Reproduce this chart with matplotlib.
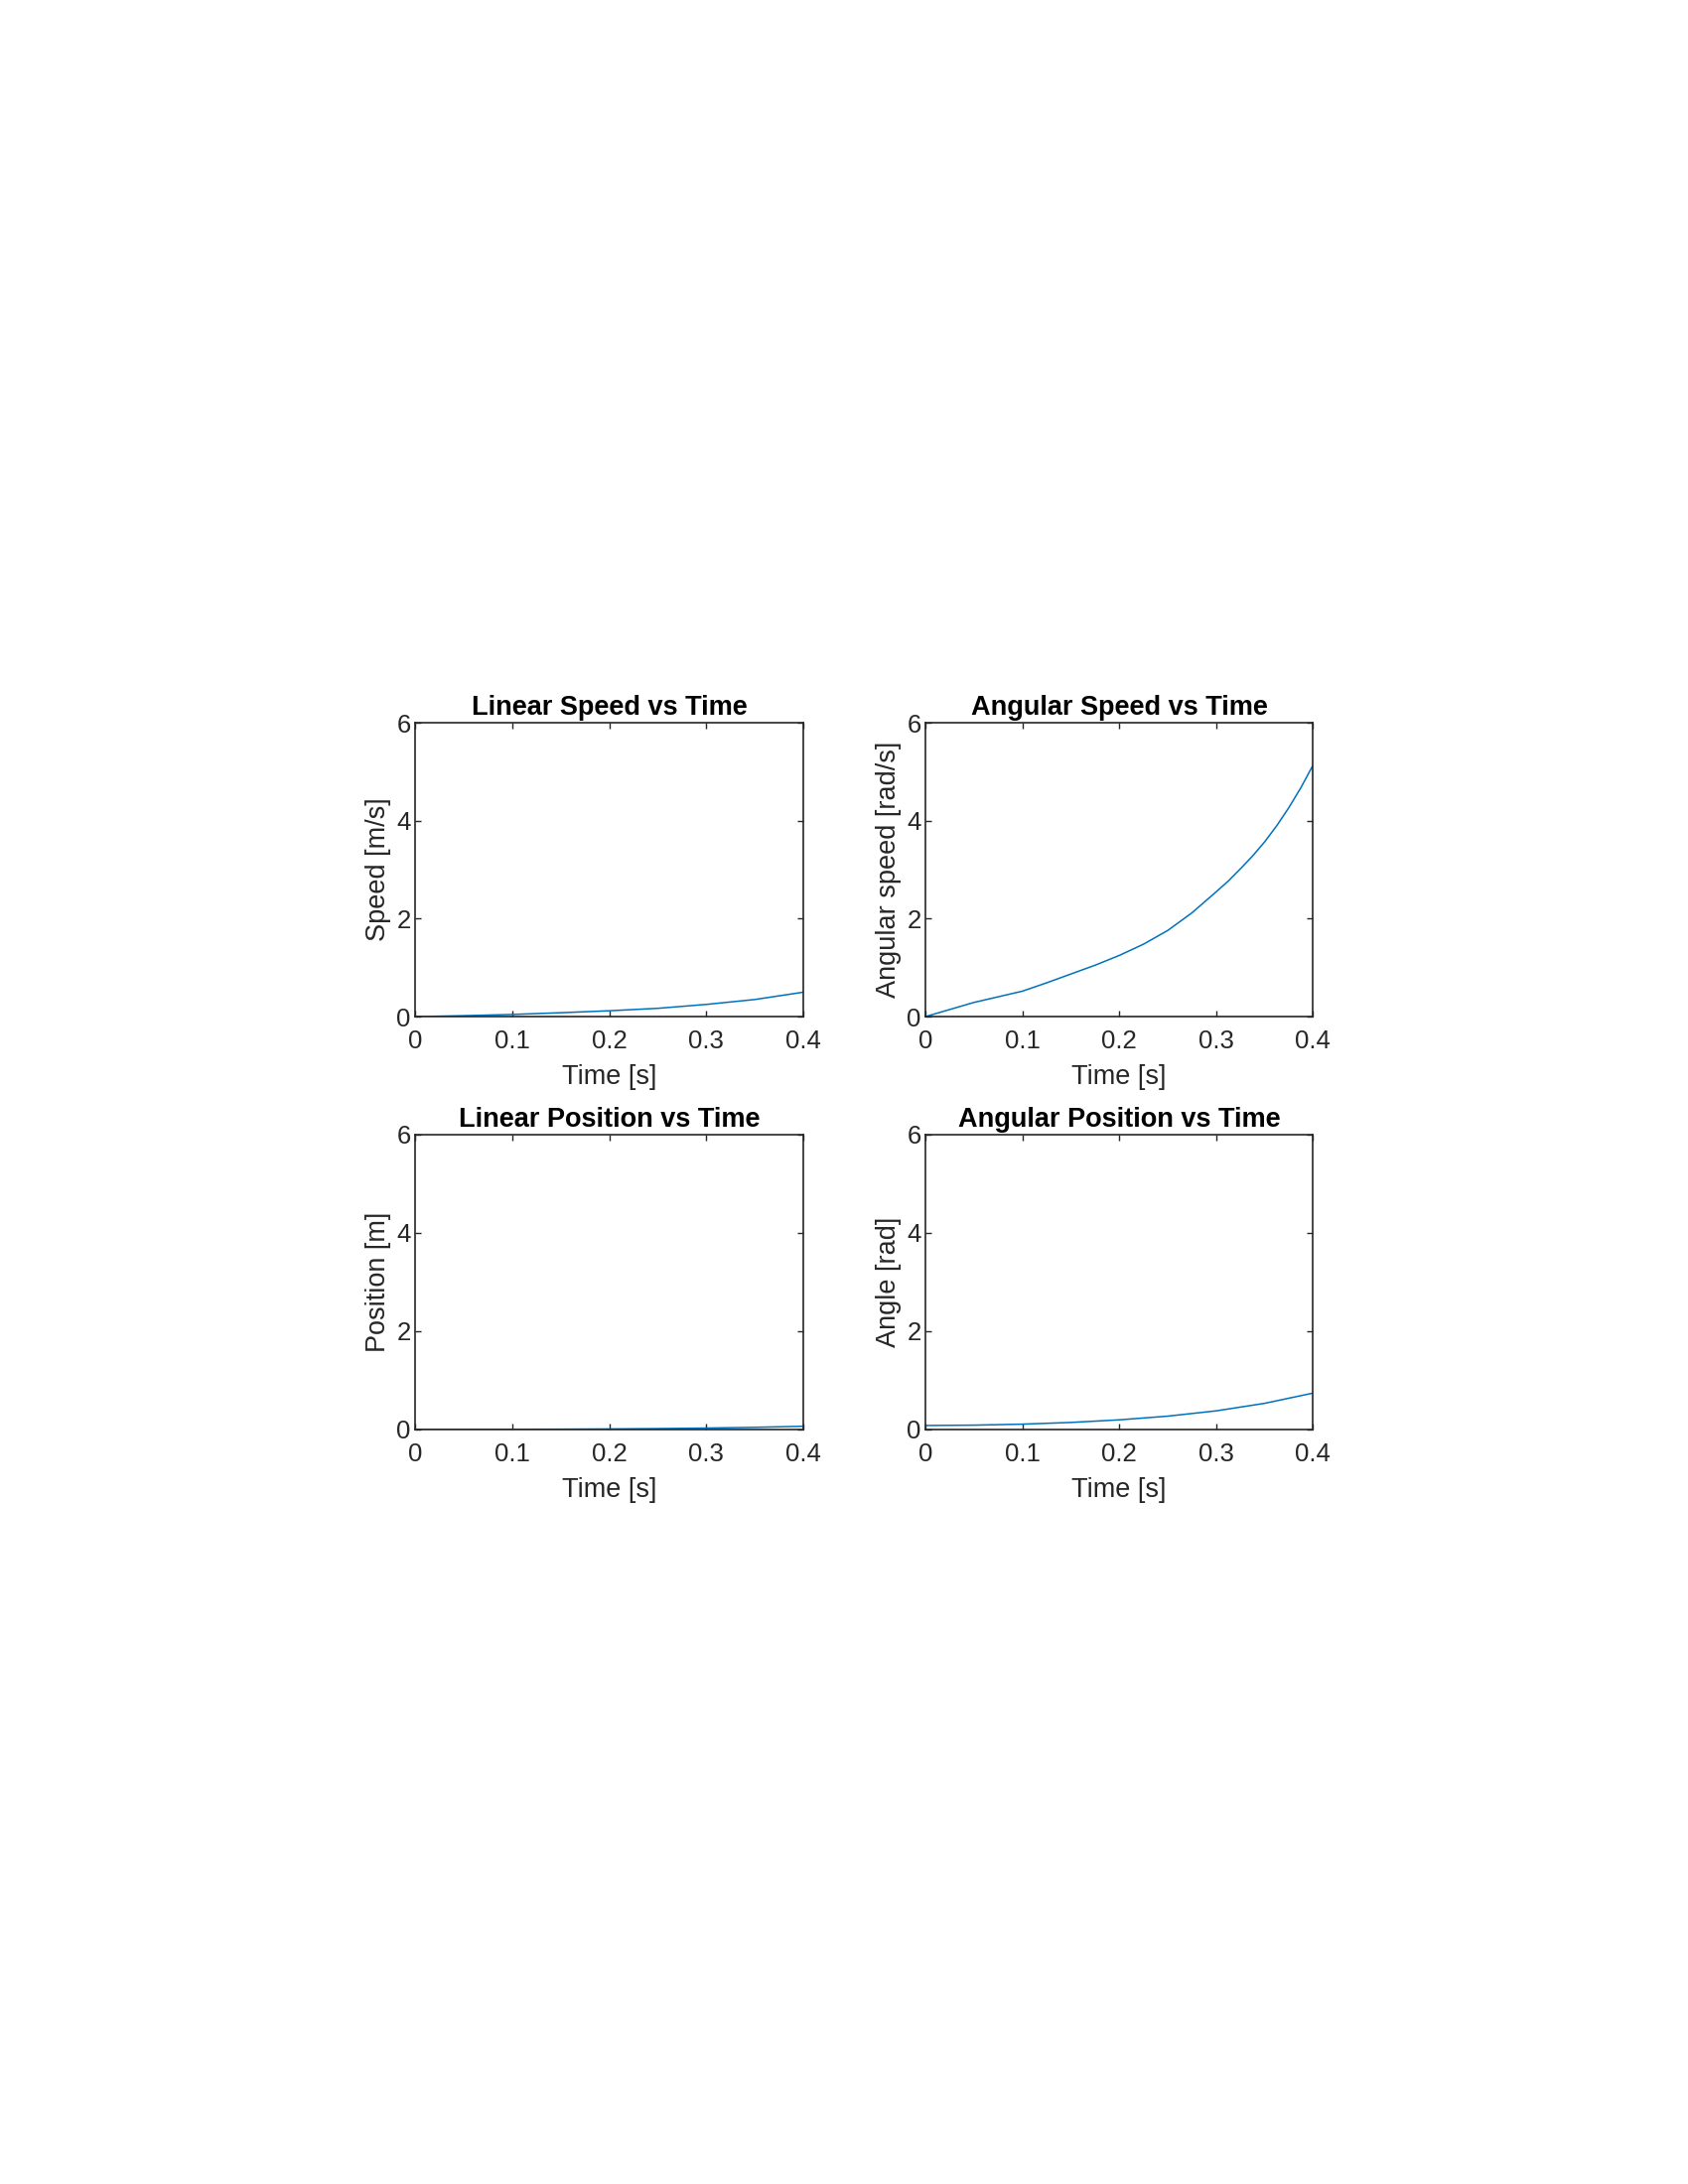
import matplotlib
matplotlib.use("Agg")
import matplotlib.pyplot as plt
import numpy as np

plt.rcParams['font.family'] = ['Liberation Sans', 'DejaVu Sans']

# data
t_coarse = [0, 0.05, 0.1, 0.15, 0.2, 0.25, 0.3, 0.35, 0.4]
t_fine = [0, 0.025, 0.05, 0.075, 0.1, 0.125, 0.15, 0.175, 0.2,
          0.225, 0.25, 0.275, 0.3, 0.3125, 0.325, 0.3375, 0.35,
          0.3625, 0.375, 0.3875, 0.4]

lin_speed = [0, 0.02, 0.045, 0.08, 0.12, 0.17, 0.25, 0.35, 0.50]
ang_speed = [0, 0.145, 0.29, 0.405, 0.52, 0.69, 0.87, 1.05, 1.25,
             1.48, 1.76, 2.12, 2.55, 2.77, 3.02, 3.28, 3.57,
             3.90, 4.27, 4.68, 5.14]
lin_pos = [0, 0.0005, 0.002, 0.005, 0.01, 0.017, 0.028, 0.043, 0.064]
ang_pos = [0.08, 0.087, 0.107, 0.142, 0.195, 0.27, 0.378, 0.531, 0.74]

titles = ['Linear Speed vs Time', 'Angular Speed vs Time',
          'Linear Position vs Time', 'Angular Position vs Time']
ylabels = ['Speed [m/s]', 'Angular speed [rad/s]', 'Position [m]', 'Angle [rad]']
xticks = [0, 0.1, 0.2, 0.3, 0.4]
yticks = [0, 2, 4, 6]

series = [(t_coarse, lin_speed), (t_fine, ang_speed),
          (t_coarse, lin_pos), (t_coarse, ang_pos)]

dark = '#262626'
fig = plt.figure(figsize=(17, 22), dpi=100)
boxes = [[0.2459, 0.5345, 0.2300, 0.1345],
         [0.5482, 0.5345, 0.2297, 0.1345],
         [0.2459, 0.3455, 0.2300, 0.1350],
         [0.5482, 0.3455, 0.2297, 0.1350]]

for i in range(4):
    ax = fig.add_axes(boxes[i])
    x, y = series[i]
    ax.plot(x, y, color='#0072BD', lw=1.1)
    ax.set_xlim(0, 0.4)
    ax.set_ylim(0, 6)
    ax.set_xticks(xticks)
    ax.set_xticklabels(['0', '0.1', '0.2', '0.3', '0.4'])
    ax.set_yticks(yticks)
    ax.tick_params(direction='in', length=4, width=1, colors=dark,
                   labelsize=18.5, top=True, right=True)
    ax.tick_params(axis='x', pad=9.5)
    ax.tick_params(axis='y', pad=3)
    for s in ax.spines.values():
        s.set_color(dark)
        s.set_linewidth(1.2)
    ax.set_title(titles[i], fontsize=19.5, fontweight='bold', pad=6)
    ax.set_xlabel('Time [s]', fontsize=19.5, color=dark, labelpad=8)
    ax.set_ylabel(ylabels[i], fontsize=19.5, color=dark, labelpad=4)

fig.savefig('out.png', dpi=100, facecolor='white')
